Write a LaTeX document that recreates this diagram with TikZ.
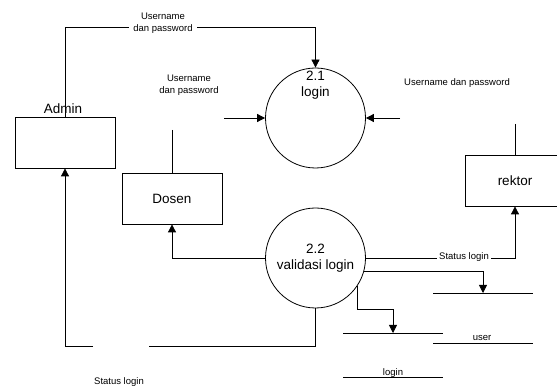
\documentclass[tikz,border=0pt]{standalone}
\usepackage{fontspec}
\setmainfont{Liberation Sans}
\usetikzlibrary{arrows.meta}
\begin{document}
\begin{tikzpicture}[x=1pt,y=-1pt, line width=0.8pt,
  big/.style={font=\fontsize{13.5}{16}\selectfont, align=center},
  small/.style={font=\fontsize{9.5}{12.5}\selectfont, align=center, inner sep=1pt},
  ent/.style={draw, minimum width=100pt, minimum height=51pt, inner sep=0pt, big},
  proc/.style={draw, circle, minimum size=100pt, inner sep=0pt, big},
  arr/.style={-{Triangle[length=8pt,width=8pt]}}]
\path[use as bounding box, clip] (0,0) rectangle (557,387);
% entities
\node[ent] (admin) at (65,142.5) {};
\node[big] (adminlbl) at (63,109) {Admin};
\node[ent] (dosen) at (172,198.5) {Dosen};
\node[ent] (rektor) at (515,180.5) {rektor};
% processes
\node[proc] (c21) at (315.5,118) {};
\node[big] (t21) at (315.5,85) {2.1\\login};
\node[proc] (c22) at (315.5,258) {2.2\\validasi login};
% data stores
\coordinate (u1) at (433,293); \coordinate (u2) at (533,293);
\coordinate (u3) at (433,343); \coordinate (u4) at (533,343);
\draw (u1) -- (u2); \draw (u3) -- (u4);
\node[small, anchor=base] (ul) at (482,341) {user};
\coordinate (l1) at (343,333); \coordinate (l2) at (443,333);
\coordinate (l3) at (343,377); \coordinate (l4) at (443,377);
\draw (l1) -- (l2); \draw (l3) -- (l4);
\node[small, anchor=base] (ll) at (393,375) {login};
% flows
\coordinate (tc) at (315.5,27);
\draw[arr] (admin.north) |- (tc) -- (c21.north);
\node[small, fill=white, inner xsep=4pt] (lt) at (163,23) {Username\\dan password};
\coordinate (li) at (224,118);
\draw[arr] (li) -- (c21.west);
\node[small] (lm) at (189,85) {Username\\dan password};
\coordinate (ri) at (400,118);
\draw[arr] (ri) -- (c21.east);
\node[small] (lr) at (457,83) {Username dan password};
\coordinate (dt) at (172,130);
\draw (dt) -- (dosen.north);
\coordinate (rt) at (515,124);
\draw (rt) -- (rektor.north);
\draw[arr] (c22.west) -| (dosen.south);
\draw[arr] (c22.east) -| (rektor.south);
\node[small, fill=white, inner xsep=2pt] (ls) at (464,257) {Status login};
\coordinate (ua) at (483,293);
\draw[arr] (c22.-16) -| (ua);
\coordinate (lb) at (393,309);
\coordinate (la) at (393,333);
\draw[arr] (c22.-34) |- (lb) -- (la);
\coordinate (g1) at (149,346);
\coordinate (g2) at (93,346);
\draw (c22.south) |- (g1);
\draw[arr] (g2) -| (admin.south);
\node[small] (lb2) at (119,382) {Status login};
\end{tikzpicture}
\end{document}
